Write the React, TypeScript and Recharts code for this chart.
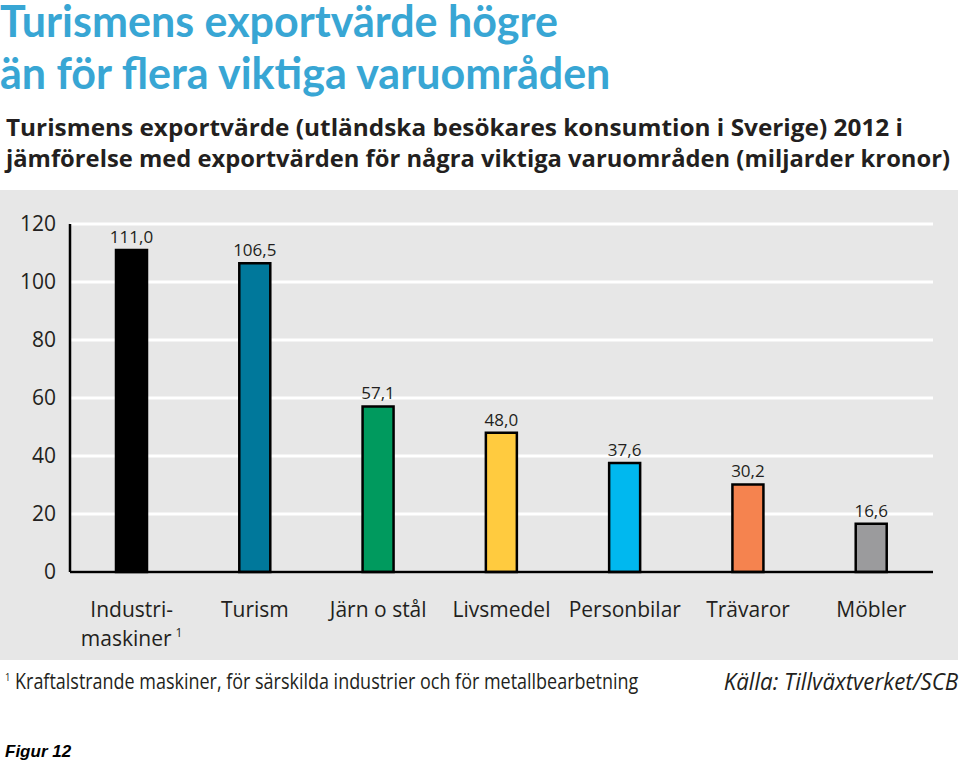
import React from 'react';
import { BarChart, Bar, XAxis, YAxis, CartesianGrid, Cell, LabelList } from 'recharts';

const categories = ['Industri-\nmaskiner', 'Turism', 'Järn o stål', 'Livsmedel', 'Personbilar', 'Trävaror', 'Möbler'];
const footnoteMarks = ['1', '', '', '', '', '', ''];
const values = [111.0, 106.5, 57.1, 48.0, 37.6, 30.2, 16.6];
const colors = ['#000000', '#00789B', '#009A5E', '#FFCB3F', '#00B8EF', '#F5834F', '#9B9B9D'];
const yTicks = [0, 20, 40, 60, 80, 100, 120];

const titleLines = ['Turismens exportvärde högre', 'än för flera viktiga varuområden'];
const subtitleLines = [
  'Turismens exportvärde (utländska besökares konsumtion i Sverige) 2012 i',
  'jämförelse med exportvärden för några viktiga varuområden (miljarder kronor)',
];
const footnoteText = 'Kraftalstrande maskiner, för särskilda industrier och för metallbearbetning';
const sourceText = 'Källa: Tillväxtverket/SCB';
const figureText = 'Figur 12';

const data = categories.map((c, i) => ({ name: c, value: values[i], mark: footnoteMarks[i] }));

const FONT = '"Open Sans", sans-serif';
const TXT = '#231F20';

const XTick = (props: any) => {
  const { x, y, payload, index } = props;
  const lines: string[] = String(payload.value).split('\n');
  const mark = footnoteMarks[index] || '';
  return (
    <g>
      {lines.map((ln, i) => (
        <text key={i} x={x} y={y + 43 + i * 29} textAnchor="middle" fill={TXT} fontFamily={FONT} fontSize={21}>
          {ln}
          {i === lines.length - 1 && mark ? (
            <tspan fontSize={12} dx={4} dy={-9}>{mark}</tspan>
          ) : null}
        </text>
      ))}
    </g>
  );
};

const subtitleWidths = [897, 944];

export default function App() {
  return (
    <div style={{ position: 'fixed', left: 0, top: 0, width: 960, height: 766, background: '#fff', overflow: 'hidden' }}>
      <div style={{ position: 'absolute', left: 0, top: 0, fontFamily: 'Lato, sans-serif', fontWeight: 700, fontSize: 43, color: '#38A6D4', whiteSpace: 'nowrap' }}>
        <div style={{ lineHeight: '42px' }}>{titleLines[0]}</div>
        <div style={{ lineHeight: '62px' }}>{titleLines[1]}</div>
      </div>
      <svg style={{ position: 'absolute', left: 0, top: 105 }} width={960} height={80}>
        {subtitleLines.map((t, i) => (
          <text key={i} x={6} y={31 + i * 31} fontFamily={FONT} fontWeight={700} fontSize={23.5} fill={TXT}
            textLength={subtitleWidths[i]} lengthAdjust="spacingAndGlyphs">
            {t}
          </text>
        ))}
      </svg>
      <div style={{ position: 'absolute', left: 0, top: 190, width: 958, height: 470, background: '#E7E7E7' }}>
        <BarChart width={958} height={470} data={data} margin={{ top: 34, right: 25, bottom: 0, left: 0 }} barCategoryGap={0}>
          <CartesianGrid vertical={false} stroke="#FFFFFF" strokeWidth={3} />
          <YAxis
            domain={[0, 120]}
            ticks={yTicks}
            width={70}
            tickLine={false}
            tickSize={0}
            tickMargin={14}
            axisLine={{ stroke: '#000', strokeWidth: 2.5 }}
            tick={{ fill: TXT, fontFamily: FONT, fontSize: 21 }}
            interval={0}
          />
          <XAxis
            dataKey="name"
            height={88}
            tickLine={false}
            tickSize={0}
            axisLine={{ stroke: '#000', strokeWidth: 2.5 }}
            tick={<XTick />}
            interval={0}
          />
          <Bar dataKey="value" barSize={31} stroke="#000" strokeWidth={2.5} isAnimationActive={false}>
            {data.map((d, i) => <Cell key={i} fill={colors[i]} />)}
            <LabelList
              dataKey="value"
              position="top"
              offset={7}
              formatter={(v: any) => Number(v).toFixed(1).replace('.', ',')}
              fill={TXT}
              fontFamily={FONT}
              fontSize={17}
            />
          </Bar>
        </BarChart>
      </div>
      <div style={{ position: 'absolute', left: 5, top: 667, fontFamily: FONT, fontSize: 21, color: TXT, whiteSpace: 'nowrap', transform: 'scaleX(0.855)', transformOrigin: 'left top' }}>
        <sup style={{ fontSize: 11 }}>1</sup> {footnoteText}
      </div>
      <div style={{ position: 'absolute', right: 2, top: 664, fontFamily: FONT, fontStyle: 'italic', fontSize: 24, color: TXT, whiteSpace: 'nowrap', transform: 'scaleX(0.93)', transformOrigin: 'right top' }}>
        {sourceText}
      </div>
      <div style={{ position: 'absolute', left: 5, top: 742, fontFamily: '"Liberation Sans", Arial, sans-serif', fontStyle: 'italic', fontWeight: 700, fontSize: 17, color: '#000', whiteSpace: 'nowrap' }}>
        {figureText}
      </div>
    </div>
  );
}
